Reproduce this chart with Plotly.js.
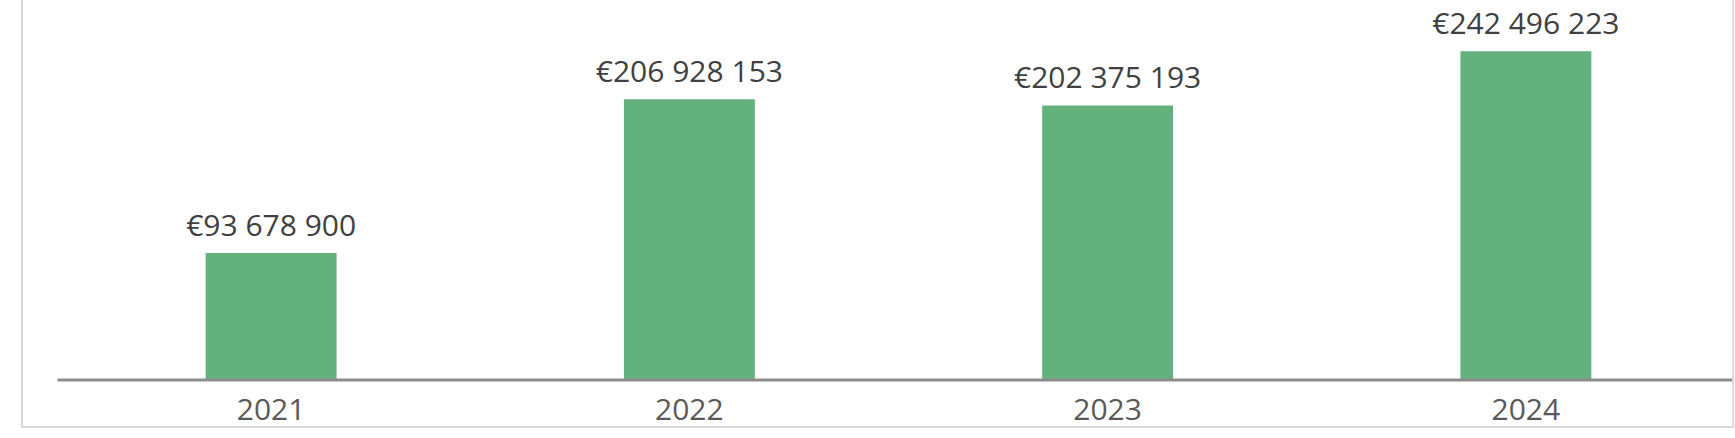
<!DOCTYPE html>
<html>
<head>
<meta charset="utf-8">
<script src="https://cdn.plot.ly/plotly-3.0.1.min.js"></script>
<style>
  html, body { margin: 0; padding: 0; background: #fff; }
  #chart { width: 1735px; height: 438px; }
</style>
</head>
<body>
<div id="chart"></div>
<script>
// Yearly totals (EUR)
const years = ['2021', '2022', '2023', '2024'];
const amounts = [93678900, 206928153, 202375193, 242496223];

const BAR_GREEN = '#63b17c';
const LABEL_FONT = 'Open Sans, Noto Sans, sans-serif';

const bars = {
    type: 'bar',
    x: years,
    y: amounts,
    marker: { color: BAR_GREEN, line: { width: 0 } },
    hoverinfo: 'none',
    showlegend: false
};

// value labels: invisible markers on the bar tops, text drawn above them
const valueLabels = {
    type: 'scatter', mode: 'markers+text',
    x: years,
    y: amounts,
    texttemplate: '€%{y:,.0f}',
    textposition: 'top center',
    textfont: { family: LABEL_FONT, size: 30, color: '#404040' },
    marker: { size: 14, opacity: 0 },
    cliponaxis: false,
    hoverinfo: 'none',
    showlegend: false
};

const layout = {
    width: 1735, height: 438,
    margin: { l: 62, r: 0, t: 0, b: 58 },
    paper_bgcolor: '#fff', plot_bgcolor: '#fff',
    separators: ', ',
    bargap: 0.687,
    font: { family: LABEL_FONT },
    xaxis: {
        type: 'category',
        showline: false,
        ticks: '', showgrid: false, zeroline: false,
        tickfont: { family: LABEL_FONT, size: 30, color: '#595959' },
        ticklabelstandoff: 9
    },
    yaxis: {
        range: [0, 280.2e6],
        visible: false, showgrid: false, zeroline: false, fixedrange: true
    },
    shapes: [
        // light grey chart-area frame (left, bottom, right edges)
        {
            type: 'rect', xref: 'paper', yref: 'paper',
            x0: -0.0239, x1: 0.9988, y0: -0.1237, y1: 1.2,
            line: { color: '#d9d9d9', width: 2 }, fillcolor: 'rgba(0,0,0,0)',
            layer: 'below'
        },
        // category axis baseline
        {
            type: 'line', xref: 'paper', yref: 'paper',
            x0: -0.0027, x1: 0.9982, y0: 0, y1: 0,
            line: { color: '#8c8c8c', width: 3 }
        }
    ]
};

Plotly.newPlot('chart', [bars, valueLabels], layout, { displayModeBar: false, staticPlot: true });
</script>
</body>
</html>
